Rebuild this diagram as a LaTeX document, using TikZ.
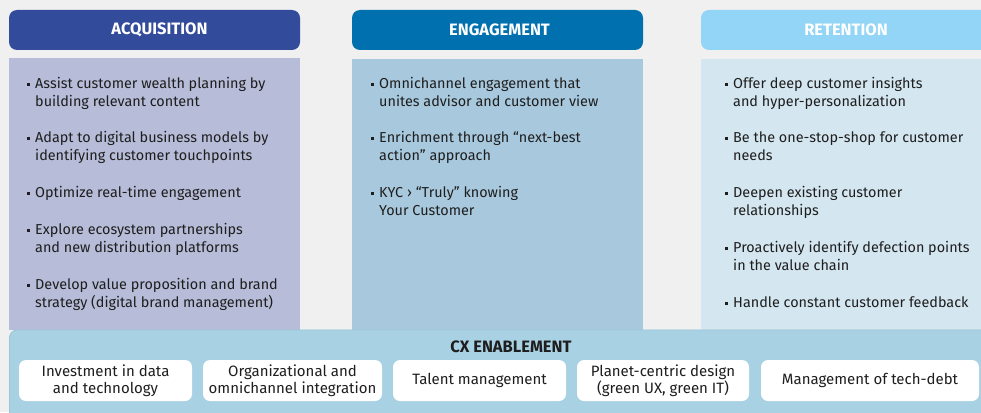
\documentclass[tikz,border=0pt]{standalone}
\usepackage{fontspec}
\setmainfont{Fira Sans}
\definecolor{bg}{HTML}{F0F0F0}
\definecolor{acqH}{HTML}{324B9B}
\definecolor{acqB}{HTML}{B7BCD8}
\definecolor{engH}{HTML}{0071AE}
\definecolor{engB}{HTML}{A8C9DD}
\definecolor{retH}{HTML}{92D5F6}
\definecolor{retB}{HTML}{D4E6F0}
\definecolor{cxB}{HTML}{A8D1E3}
\definecolor{cxL}{HTML}{9CC5D9}
\definecolor{txt}{HTML}{1E1E1E}
\newcommand{\bl}{\llap{\rule[2pt]{3pt}{3pt}\hspace{5.5pt}}}
\newcommand{\tl}[1]{\begin{tabular}[t]{@{}l@{}}#1\end{tabular}}
\tikzset{
  hdr/.style={rounded corners=8pt, inner sep=0pt, minimum height=40pt, text=white,
    font=\fontsize{16.5pt}{18pt}\selectfont\bfseries},
  body/.style={inner sep=0pt, draw=none},
  item/.style={anchor=base west, inner sep=0pt, text=txt,
    font=\fontsize{14.4pt}{18pt}\selectfont},
  enab/.style={fill=white, rounded corners=7pt, inner sep=0pt, minimum height=41pt,
    align=center, text=txt, font=\fontsize{15pt}{17pt}\selectfont},
}
\begin{document}
\begin{tikzpicture}[x=1pt,y=-1pt]
\clip (0,0) rectangle (981,412);
\fill[bg] (0,0) rectangle (981,412);
% headers
\node[hdr, fill=acqH, minimum width=291pt] (acqh) at (154.5,30) {\hspace*{10pt}ACQUISITION};
\node[hdr, fill=engH, minimum width=291pt] (engh) at (497.5,30) {\hspace*{4pt}ENGAGEMENT};
\node[hdr, fill=retH, minimum width=290pt] (reth) at (846,30) {RETENTION};
% bodies
\node[body, fill=acqB, minimum width=291pt, minimum height=272pt] (acqb) at (154.5,194) {};
\node[body, fill=engB, minimum width=291pt, minimum height=271pt] (engb) at (497.5,194.5) {};
\node[body, fill=retB, minimum width=290pt, minimum height=271pt] (retb) at (846,194.5) {};
% acquisition items
\node[item] (a1) at (35,88) {\bl\tl{Assist customer wealth planning by\\building relevant content}};
\node[item] (a2) at (35,142) {\bl\tl{Adapt to digital business models by\\identifying customer touchpoints}};
\node[item] (a3) at (35,197) {\bl\tl{Optimize real-time engagement}};
\node[item] (a4) at (35,234) {\bl\tl{Explore ecosystem partnerships\\and new distribution platforms}};
\node[item] (a5) at (35,289) {\bl\tl{Develop value proposition and brand\\strategy (digital brand management)}};
% engagement items
\node[item] (e1) at (379,88) {\bl\tl{Omnichannel engagement that\\unites advisor and customer view}};
\node[item] (e2) at (379,142) {\bl\tl{Enrichment through “next-best\\action” approach}};
\node[item] (e3) at (379,197) {\bl\tl{KYC › “Truly” knowing\\Your Customer}};
% retention items
\node[item] (r1) at (733,88) {\bl\tl{Offer deep customer insights\\and hyper-personalization}};
\node[item] (r2) at (733,142) {\bl\tl{Be the one-stop-shop for customer\\needs}};
\node[item] (r3) at (733,197) {\bl\tl{Deepen existing customer\\relationships}};
\node[item] (r4) at (733,252) {\bl\tl{Proactively identify defection points\\in the value chain}};
\node[item] (r5) at (733,307) {\bl\tl{Handle constant customer feedback}};
% CX enablement band
\node[fill=cxB, draw=cxL, line width=0.8pt, rounded corners=8pt, inner sep=0pt,
  minimum width=1000pt, minimum height=100pt, anchor=north west] (cx) at (9,329.5) {};
\node[anchor=base, inner sep=0pt, text=txt, font=\fontsize{16.5pt}{18pt}\selectfont\bfseries]
  (cxt) at (511,352) {CX ENABLEMENT};
\node[enab, minimum width=173pt] (b1) at (105.5,380.5) {Investment in data\\and technology};
\node[enab, minimum width=179pt] (b2) at (292.5,380.5) {Organizational and\\omnichannel integration};
\node[enab, minimum width=173pt] (b3) at (479.5,380.5) {Talent management};
\node[enab, minimum width=172pt] (b4) at (663,380.5) {Planet-centric design\\(green UX, green IT)};
\node[enab, minimum width=218pt] (b5) at (870,380.5) {Management of tech-debt};
\end{tikzpicture}
\end{document}
